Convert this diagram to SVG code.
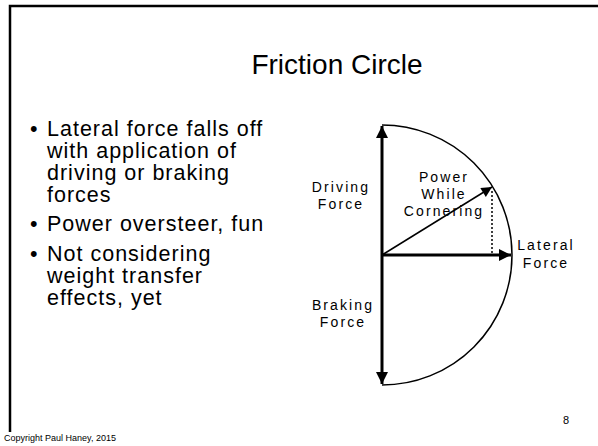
<svg xmlns="http://www.w3.org/2000/svg" width="598" height="446" viewBox="0 0 598 446">
<style>
  text { font-family: "Liberation Sans", Arial, sans-serif; fill: #000; }
  .title { font-size: 28px; text-anchor: middle; }
  .bullet { font-size: 21.5px; letter-spacing: 1px; }
  .lbl { font-size: 14px; letter-spacing: 2.1px; text-anchor: middle; }
  .thick { stroke: #000; stroke-width: 3; fill: none; }
  .thin { stroke: #000; stroke-width: 1.5; fill: none; }
  .dot { stroke: #000; stroke-width: 1.5; stroke-dasharray: 2 2; fill: none; }
</style>
<defs>
  <marker id="ah" viewBox="0 0 10 10" refX="10" refY="5" markerWidth="4" markerHeight="4" markerUnits="strokeWidth" orient="auto">
    <path d="M0,0 L10,5 L0,10 Z" fill="#000"/>
  </marker>
  <marker id="ahs" viewBox="0 0 10 10" refX="10" refY="5" markerWidth="8" markerHeight="7" markerUnits="strokeWidth" orient="auto">
    <path d="M0,0 L10,5 L0,10 Z" fill="#000"/>
  </marker>
</defs>
<rect width="598" height="446" fill="#fff"/>
<path d="M10,432 L10,6 L598,6" fill="none" stroke="#000" stroke-width="2.5"/>
<text class="title" x="337" y="74">Friction Circle</text>
<g id="bullets" class="bullet">
  <text x="30" y="136">•</text>
  <text x="47" y="136">Lateral force falls off</text>
  <text x="47" y="158">with application of</text>
  <text x="47" y="180">driving or braking</text>
  <text x="47" y="202">forces</text>
  <text x="30" y="231">•</text>
  <text x="47" y="231">Power oversteer, fun</text>
  <text x="30" y="261">•</text>
  <text x="47" y="261">Not considering</text>
  <text x="47" y="283">weight transfer</text>
  <text x="47" y="305">effects, yet</text>
</g>
<g id="circle">
  <path d="M382,125 A130,130 0 0 1 382,385" class="thin" stroke-width="1.3"/>
</g>
<g id="connectors">
  <line x1="382" y1="255" x2="382" y2="126" class="thick" marker-end="url(#ah)"/>
  <line x1="382" y1="255" x2="382" y2="384" class="thick" marker-end="url(#ah)"/>
  <line x1="382" y1="255" x2="511" y2="255" class="thick" marker-end="url(#ah)"/>
  <line x1="382" y1="255" x2="492" y2="187" class="thin" marker-end="url(#ahs)"/>
  <line x1="492" y1="191" x2="492" y2="254" class="dot"/>
</g>
<g id="driving"><text class="lbl" x="341" y="192">Driving</text><text class="lbl" x="341" y="209">Force</text></g>
<g id="power"><text class="lbl" x="444" y="182">Power</text><text class="lbl" x="444" y="199">While</text><text class="lbl" x="444" y="216">Cornering</text></g>
<g id="lateral"><text class="lbl" x="546" y="250">Lateral</text><text class="lbl" x="546" y="268">Force</text></g>
<g id="braking"><text class="lbl" x="343" y="310">Braking</text><text class="lbl" x="343" y="327">Force</text></g>
<text x="563" y="424" font-size="11">8</text>
<text x="4" y="441" font-size="9">Copyright Paul Haney, 2015</text>
</svg>
